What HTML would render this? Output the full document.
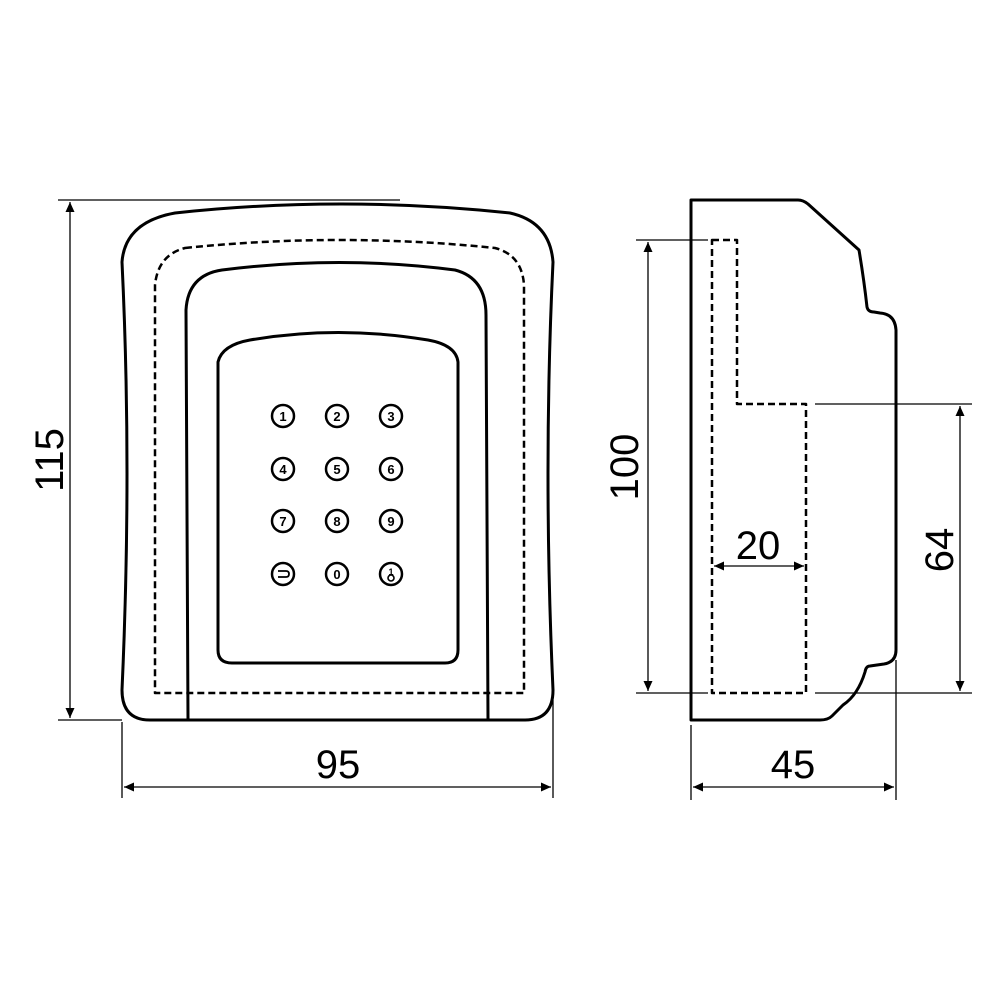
<!DOCTYPE html>
<html><head><meta charset="utf-8"><style>html,body{margin:0;padding:0;background:#fff}svg{display:block}</style></head>
<body>
<svg width="1000" height="1000" viewBox="0 0 1000 1000" xmlns="http://www.w3.org/2000/svg">
<defs>
<marker id="a" viewBox="0 0 10 10" refX="10" refY="5" markerWidth="18" markerHeight="10" markerUnits="userSpaceOnUse" orient="auto-start-reverse"><path d="M0,0.5 L10,5 L0,9.5 z" fill="#000"/></marker>
</defs>
<g fill="none" stroke="#000" stroke-width="3" stroke-linejoin="round">
<path d="M175,213 Q340,195 510,213 Q550,222 553,262 Q543,470 553,690 Q553,720 525,720 L150,720 Q122,720 122,690 Q132,470 122,262 Q125,222 175,213 Z"/>
<path stroke-width="2.5" stroke-dasharray="7,4" d="M185,248 Q340,232 495,248 Q522,255 524,285 L524,693 L155,693 L155,285 Q158,255 185,248 Z"/>
<path d="M188,720 L186,310 Q188,275 222,270 Q340,255 455,270 Q486,278 486,315 L488,720"/>
<path d="M218,362 Q222,345 250,340 Q338,325 428,340 Q456,345 458,362 L458,650 Q458,663 445,663 L232,663 Q218,663 218,650 Z"/>
</g>
<g fill="none" stroke="#000" stroke-width="2.5">
<circle cx="283" cy="416" r="11"/><circle cx="337" cy="416" r="11"/><circle cx="391" cy="416" r="11"/>
<circle cx="283" cy="469" r="11"/><circle cx="337" cy="469" r="11"/><circle cx="391" cy="469" r="11"/>
<circle cx="283" cy="521" r="11"/><circle cx="337" cy="521" r="11"/><circle cx="391" cy="521" r="11"/>
<circle cx="283" cy="574" r="11"/><circle cx="337" cy="574" r="11"/><circle cx="391" cy="574" r="11"/>
<path stroke-width="1.8" d="M278,571 L286,571 Q289,571 289,574 Q289,577 286,577 L278,577"/>
<circle stroke-width="1.6" cx="391" cy="578" r="3"/>
</g>
<g font-family="Liberation Sans, sans-serif" font-weight="bold" font-size="13" text-anchor="middle">
<text x="283" y="421">1</text><text x="337" y="421">2</text><text x="391" y="421">3</text>
<text x="283" y="474">4</text><text x="337" y="474">5</text><text x="391" y="474">6</text>
<text x="283" y="526">7</text><text x="337" y="526">8</text><text x="391" y="526">9</text>
<text x="337" y="579">0</text><text x="391" y="575" font-size="9">1</text>
</g>
<g fill="none" stroke="#000" stroke-width="3" stroke-linejoin="round">
<path d="M691,200 L798,200 Q803,200 808,204 L859,250 Q864,280 867,307 Q868,312 874,312 L880,313 Q895,314 896,330 L896,650 Q896,662 884,664 L870,666 Q866,666 865,672 Q858,695 843,705 L832,716 Q828,720 820,720 L691,720 Z"/>
<path stroke-width="2.5" stroke-dasharray="7,4" d="M712,240 L737,240 L737,404 L806,404 L806,693 L712,693 Z"/>
</g>
<g stroke="#000" stroke-width="1.3" fill="none">
<line x1="58" y1="200" x2="400" y2="200"/>
<line x1="58" y1="720" x2="122" y2="720"/>
<line x1="70" y1="202" x2="70" y2="718" marker-start="url(#a)" marker-end="url(#a)"/>
<line x1="122" y1="722" x2="122" y2="798"/>
<line x1="553" y1="700" x2="553" y2="798"/>
<line x1="124" y1="787" x2="551" y2="787" marker-start="url(#a)" marker-end="url(#a)"/>
<line x1="636" y1="240" x2="708" y2="240"/>
<line x1="636" y1="693" x2="708" y2="693"/>
<line x1="648" y1="242" x2="648" y2="691" marker-start="url(#a)" marker-end="url(#a)"/>
<line x1="815" y1="404" x2="972" y2="404"/>
<line x1="815" y1="693" x2="972" y2="693"/>
<line x1="960" y1="406" x2="960" y2="691" marker-start="url(#a)" marker-end="url(#a)"/>
<line x1="714" y1="566" x2="804" y2="566" marker-start="url(#a)" marker-end="url(#a)"/>
<line x1="691" y1="725" x2="691" y2="800"/>
<line x1="896" y1="660" x2="896" y2="800"/>
<line x1="693" y1="787" x2="894" y2="787" marker-start="url(#a)" marker-end="url(#a)"/>
</g>
<g font-family="Liberation Sans, sans-serif" font-size="40" text-anchor="middle" fill="#000">
<text transform="translate(63,460) rotate(-90)">115</text>
<text x="338" y="778">95</text>
<text transform="translate(638,467) rotate(-90)">100</text>
<text transform="translate(953,550) rotate(-90)">64</text>
<text x="758" y="559">20</text>
<text x="793" y="778">45</text>
</g>
</svg>
</body></html>
